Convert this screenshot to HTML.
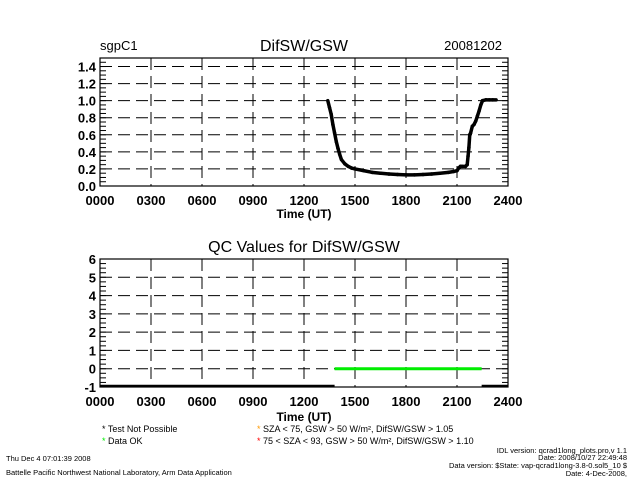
<!DOCTYPE html>
<html><head><meta charset="utf-8"><style>
body{margin:0;background:#fff;}
svg{display:block;font-family:"Liberation Sans",sans-serif;}
</style></head><body>
<svg id="c" width="640" height="480" viewBox="0 0 640 480">
<text x="100" y="50" font-size="13">sgpC1</text>
<text x="304" y="51" font-size="16" text-anchor="middle">DifSW/GSW</text>
<text x="502" y="50" font-size="13" text-anchor="end">20081202</text>
<text x="304" y="218" font-size="12" text-anchor="middle" font-weight="bold">Time (UT)</text>
<text x="304" y="252" font-size="16" text-anchor="middle">QC Values for DifSW/GSW</text>
<text x="304" y="421" font-size="12" text-anchor="middle" font-weight="bold">Time (UT)</text>
<g font-size="9">
<text x="102" y="432"><tspan fill="#000">*</tspan>  Test Not Possible</text>
<text x="102" y="444"><tspan fill="#00ee00">*</tspan>  Data OK</text>
<text x="257" y="432"><tspan fill="#ff9900">*</tspan>  SZA &lt; 75, GSW &gt; 50 W/m², DifSW/GSW &gt; 1.05</text>
<text x="257" y="444"><tspan fill="#ff0000">*</tspan>  75 &lt; SZA &lt; 93, GSW &gt; 50 W/m², DifSW/GSW &gt; 1.10</text>
</g>
<g font-size="7.5">
<text x="6" y="461">Thu Dec  4 07:01:39 2008</text>
<text x="6" y="475">Battelle Pacific Northwest National Laboratory, Arm Data Application</text>
<text x="627" y="453" text-anchor="end">IDL version: qcrad1long_plots.pro,v 1.1</text>
<text x="627" y="460" text-anchor="end">Date: 2008/10/27 22:49:48</text>
<text x="627" y="468" text-anchor="end">Data version: $State: vap-qcrad1long-3.8-0.sol5_10 $</text>
<text x="627" y="476" text-anchor="end">Date: 4-Dec-2008,</text>
</g>
</svg>
<script>
const xTicks=["0000","0300","0600","0900","1200","1500","1800","2100","2400"];
const topYTicks=["0.0","0.2","0.4","0.6","0.8","1.0","1.2","1.4"];
const botYTicks=["-1","0","1","2","3","4","5","6"];
const difHours=[13.4,13.5,13.6,13.7,13.8,13.9,14.0,14.1,14.2,14.4,14.6,14.8,15.0,15.5,16.0,16.5,17.0,17.5,18.0,18.5,19.0,19.5,20.0,20.5,20.8,21.0,21.1,21.2,21.3,21.5,21.6,21.65,21.7,21.75,21.8,21.9,22.0,22.1,22.2,22.3,22.4,22.5,22.7,22.9,23.1,23.3];
const difValues=[1.0,0.92,0.84,0.72,0.62,0.52,0.44,0.37,0.31,0.26,0.23,0.21,0.2,0.18,0.16,0.15,0.14,0.135,0.13,0.13,0.135,0.14,0.15,0.16,0.17,0.18,0.21,0.23,0.23,0.23,0.25,0.35,0.45,0.6,0.62,0.7,0.72,0.76,0.82,0.88,0.95,1.0,1.01,1.01,1.01,1.01];
const okStart=[13.8], okEnd=[22.45], okLevel=[0];
const npRanges=[[0,13.8],[22.45,24]];
const NS="http://www.w3.org/2000/svg", svg=document.getElementById('c');
function mk(t,a,p){const e=document.createElementNS(NS,t);for(const k in a)e.setAttribute(k,a[k]);(p||svg).appendChild(e);return e;}
const X0=100,X1=508;
const xs=h=>X0+(X1-X0)*h/24;
function panel(top,bot,ymin,ymax,yt,minorStep,name){
  const ys=v=>bot-(bot-top)*(v-ymin)/(ymax-ymin);
  const g=mk('g',{});
  
  
  mk('rect',{x:X0,y:top,width:X1-X0,height:bot-top,fill:'none',stroke:'#000','stroke-width':1.2},g);
  yt.forEach(s=>{const v=parseFloat(s),y=ys(v);
    if(y>top+1&&y<bot-1){const l=mk('line',{x1:X0,x2:X1,y1:y,y2:y,stroke:'#000','stroke-dasharray':'12,6'},g);}
    const t=mk('text',{x:X0-4,y:y+5,'font-size':13,'font-weight':'bold','text-anchor':'end'},g);t.textContent=s;
    });
  for(let v=ymin;v<=ymax+1e-9;v+=minorStep){const y=ys(v);
    mk('line',{x1:X0,x2:X0+6,y1:y,y2:y,stroke:'#000','stroke-width':1},g);
    mk('line',{x1:X1-6,x2:X1,y1:y,y2:y,stroke:'#000','stroke-width':1},g);}
  xTicks.forEach((s,i)=>{const x=xs(i*3);
    if(i>0&&i<8){const l=mk('line',{x1:x,x2:x,y1:top,y2:bot,stroke:'#000','stroke-dasharray':'12,6'},g);}
    const t=mk('text',{x:x,y:bot+19,'font-size':13,'font-weight':'bold','text-anchor':'middle'},g);t.textContent=s;
    });
  return ys;
}
const ysT=panel(58,186,0,1.5,topYTicks,0.05,'top-plot');
const ysB=panel(259,387,-1,6,botYTicks,0.25,'bottom-plot');
const sg=mk('g',{});


for(let i=0;i<difHours.length-1;i++){
  const l=mk('line',{x1:xs(difHours[i]),y1:ysT(difValues[i]),x2:xs(difHours[i+1]),y2:ysT(difValues[i+1]),stroke:'#000','stroke-width':3.5,'stroke-linecap':'round'},sg);
}
okStart.forEach((s,i)=>{const l=mk('line',{x1:xs(s),x2:xs(okEnd[i]),y1:ysB(okLevel[i]),y2:ysB(okLevel[i]),stroke:'#00ee00','stroke-width':3});
  });
npRanges.forEach(r=>{const l=mk('line',{x1:xs(r[0]),x2:xs(r[1]),y1:ysB(-1)-1,y2:ysB(-1)-1,stroke:'#000','stroke-width':2.5});
  });
</script>
</body></html>
